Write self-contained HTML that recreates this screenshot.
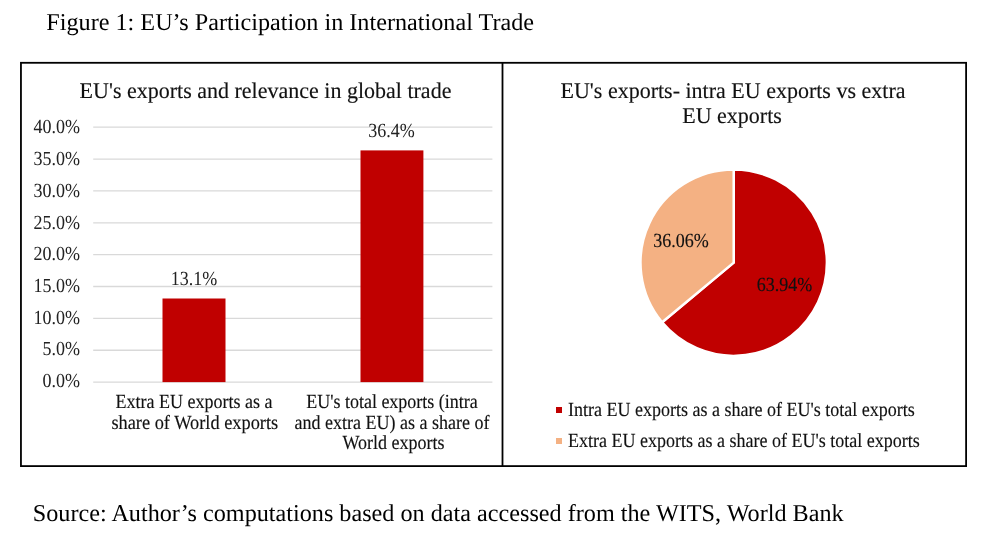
<!DOCTYPE html>
<html>
<head>
<meta charset="utf-8">
<style>
html,body{margin:0;padding:0;background:#fff;}
body{width:999px;height:538px;overflow:hidden;position:relative;}
svg{position:absolute;left:0;top:0;will-change:transform;text-rendering:geometricPrecision;}
text{font-family:"Liberation Serif","Times New Roman",serif;fill:#111;}
.c{stroke:#111;stroke-width:0.15px;}
.n{fill:#222;}
</style>
</head>
<body>
<svg width="999" height="538" viewBox="0 0 999 538">
<text x="46.3" y="29.9" style="font-size:24.2px;fill:#000">Figure 1: EU’s Participation in International Trade</text>
<rect x="20.95" y="62.8" width="945.15" height="403.3" fill="none" stroke="#000" stroke-width="1.8"/>
<line x1="502.5" y1="62.8" x2="502.5" y2="466.1" stroke="#000" stroke-width="1.8"/>
<text class="c" transform="translate(265.5,97.8) scale(0.978,1)" text-anchor="middle" style="font-size:22.5px">EU's exports and relevance in global trade</text>
<g stroke="#d9d9d9" stroke-width="1.3">
<line x1="93.2" x2="492.4" y1="382.10" y2="382.10"/>
<line x1="93.2" x2="492.4" y1="350.24" y2="350.24"/>
<line x1="93.2" x2="492.4" y1="318.38" y2="318.38"/>
<line x1="93.2" x2="492.4" y1="286.52" y2="286.52"/>
<line x1="93.2" x2="492.4" y1="254.66" y2="254.66"/>
<line x1="93.2" x2="492.4" y1="222.80" y2="222.80"/>
<line x1="93.2" x2="492.4" y1="190.94" y2="190.94"/>
<line x1="93.2" x2="492.4" y1="159.08" y2="159.08"/>
<line x1="93.2" x2="492.4" y1="127.22" y2="127.22"/>
</g>
<text class="n" transform="translate(80,386.90) scale(0.9,1)" text-anchor="end" style="font-size:20px">0.0%</text>
<text class="n" transform="translate(80,355.22) scale(0.9,1)" text-anchor="end" style="font-size:20px">5.0%</text>
<text class="n" transform="translate(80,323.54) scale(0.9,1)" text-anchor="end" style="font-size:20px">10.0%</text>
<text class="n" transform="translate(80,291.86) scale(0.9,1)" text-anchor="end" style="font-size:20px">15.0%</text>
<text class="n" transform="translate(80,260.18) scale(0.9,1)" text-anchor="end" style="font-size:20px">20.0%</text>
<text class="n" transform="translate(80,228.50) scale(0.9,1)" text-anchor="end" style="font-size:20px">25.0%</text>
<text class="n" transform="translate(80,196.82) scale(0.9,1)" text-anchor="end" style="font-size:20px">30.0%</text>
<text class="n" transform="translate(80,165.14) scale(0.9,1)" text-anchor="end" style="font-size:20px">35.0%</text>
<text class="n" transform="translate(80,133.46) scale(0.9,1)" text-anchor="end" style="font-size:20px">40.0%</text>
<rect x="162.5" y="298.50" width="63.00" height="83.60" fill="#c00000"/>
<rect x="360.5" y="150.40" width="62.90" height="231.70" fill="#c00000"/>
<text class="n" transform="translate(194,285) scale(0.9,1)" text-anchor="middle" style="font-size:20px">13.1%</text>
<text class="n" transform="translate(391.5,136.7) scale(0.9,1)" text-anchor="middle" style="font-size:20px">36.4%</text>
<text class="c" transform="translate(194,407.5) scale(0.9,1)" text-anchor="middle" style="font-size:20px">Extra EU exports as a</text>
<text class="c" transform="translate(194.8,428.6) scale(0.917,1)" text-anchor="middle" style="font-size:20px">share of World exports</text>
<text class="c" transform="translate(392,407.7) scale(0.9,1)" text-anchor="middle" style="font-size:20px">EU's total exports (intra</text>
<text class="c" transform="translate(392,428.6) scale(0.9,1)" text-anchor="middle" style="font-size:20px">and extra EU) as a share of</text>
<text class="c" transform="translate(393.5,449.0) scale(0.9,1)" text-anchor="middle" style="font-size:20px">World exports</text>
<text class="c" transform="translate(733,97.8) scale(0.978,1)" text-anchor="middle" style="font-size:22.5px">EU's exports- intra EU exports vs extra</text>
<text class="c" transform="translate(732,123.2) scale(0.978,1)" text-anchor="middle" style="font-size:22.5px">EU exports</text>
<g stroke="#fff" stroke-width="2.5" stroke-linejoin="round">
<path fill="#c00000" d="M733.7,262.65 L733.70,169.45 A93.2,93.2 0 1 1 662.11,322.33 Z"/>
<path fill="#f4b183" d="M733.7,262.65 L662.11,322.33 A93.2,93.2 0 0 1 733.70,169.45 Z"/>
</g>
<text class="c" transform="translate(653.2,247.1) scale(0.9,1)" text-anchor="start" style="font-size:20px">36.06%</text>
<text class="c" transform="translate(756.8,291) scale(0.9,1)" text-anchor="start" style="font-size:20px">63.94%</text>
<rect x="556" y="407" width="6" height="6" fill="#c00000"/>
<rect x="556" y="438" width="6" height="6" fill="#f4b183"/>
<text class="c" transform="translate(568,416.3) scale(0.9,1)" text-anchor="start" style="font-size:20px">Intra EU exports as a share of EU's total exports</text>
<text class="c" transform="translate(568,446.6) scale(0.9,1)" text-anchor="start" style="font-size:20px">Extra EU exports as a share of EU's total exports</text>
<text x="32.8" y="520.8" style="font-size:24.2px;fill:#000">Source: Author’s computations based on data accessed from the WITS, World Bank</text>
</svg>
</body>
</html>
